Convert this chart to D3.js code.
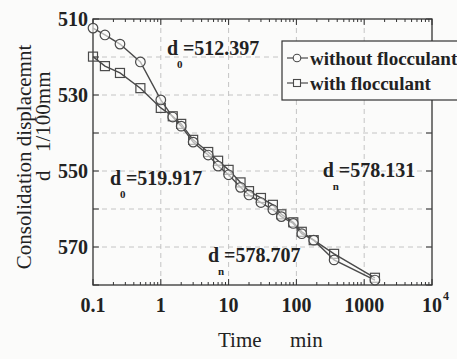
<!DOCTYPE html>
<html>
<head>
<meta charset="utf-8">
<script src="https://cdn.jsdelivr.net/npm/d3@7"></script>
<style>
body { margin: 0; background: #fbfbfa; }
text { font-family: "Liberation Serif", "Times New Roman", serif; fill: #222; }
</style>
</head>
<body>
<script>
// readings (min) and settlement (1/100 mm)
const times = [0.1, 0.15, 0.25, 0.5, 1, 1.5, 2, 3, 5, 7, 10, 15, 20, 30, 45, 60, 90, 120, 180, 360, 1440];
const withoutFloc = [512.4, 514.2, 516.6, 521.3, 531.3, 535.8, 538.2, 542.4, 545.8, 548.7, 551.0, 554.3, 556.3, 558.3, 560.2, 562.0, 563.8, 566.5, 568.2, 573.4, 578.7];
const withFloc = [519.9, 522.4, 524.2, 528.2, 533.4, 535.6, 537.6, 541.8, 545.0, 547.3, 549.7, 553.0, 555.3, 557.1, 558.9, 561.4, 563.5, 566.0, 568.2, 571.8, 578.1];
const xTicks = [0.1, 1, 10, 100, 1000, 10000];
const xTickLabels = ["0.1", "1", "10", "100", "1000", "10"];
const yTicks = [510, 520, 530, 540, 550, 560, 570, 580];
const yTickLabels = [510, 530, 550, 570];
const seriesNames = ["without flocculant", "with flocculant"];
const notes = [
    {sub: "0", val: "=512.397", t: 1.23, d: 519.5},
    {sub: "0", val: "=519.917", t: 0.178, d: 553.7},
    {sub: "n", val: "=578.707", t: 4.97, d: 573.9},
    {sub: "n", val: "=578.131", t: 245, d: 551.6}
];

const W = 457, H = 359;
const margin = {top: 19, right: 25, bottom: 74, left: 93};

const svg = d3.select("body").append("svg")
    .attr("width", W)
    .attr("height", H);

const x = d3.scaleLog()
    .domain([0.1, 10000])
    .range([margin.left, W - margin.right]);
const y = d3.scaleLinear()
    .domain([510, 580])
    .range([margin.top, H - margin.bottom]);

const x0 = x.range()[0], x1 = x.range()[1];
const y0 = y.range()[0], y1 = y.range()[1];

// grid
const grid = svg.append("g")
    .attr("stroke", "#c4c4c4")
    .attr("stroke-dasharray", "5,4")
    .attr("stroke-width", 1);
grid.selectAll(".gx").data(xTicks.slice(1, -1)).enter().append("line")
    .attr("x1", d => x(d)).attr("x2", d => x(d))
    .attr("y1", y0).attr("y2", y1);
grid.selectAll(".gy").data(yTicks.slice(1, -1)).enter().append("line")
    .attr("x1", x0).attr("x2", x1)
    .attr("y1", d => y(d)).attr("y2", d => y(d));

// ticks, inside on all four sides
const minor = [];
for (let e = -1; e < 4; e++) {
    for (let m = 2; m < 10; m++) minor.push(m * Math.pow(10, e));
}
const ticks = svg.append("g").attr("stroke", "#333").attr("stroke-width", 1);
[[y1, -1], [y0, 1]].forEach(([yy, dir]) => {
    ticks.selectAll(null).data(xTicks).enter().append("line")
        .attr("x1", d => x(d)).attr("x2", d => x(d))
        .attr("y1", yy).attr("y2", yy + dir * 6);
    ticks.selectAll(null).data(minor).enter().append("line")
        .attr("x1", d => x(d)).attr("x2", d => x(d))
        .attr("y1", yy).attr("y2", yy + dir * 3);
});
[[x0, 1], [x1, -1]].forEach(([xx, dir]) => {
    ticks.selectAll(null).data(yTicks).enter().append("line")
        .attr("x1", xx).attr("x2", xx + dir * 6)
        .attr("y1", d => y(d)).attr("y2", d => y(d));
});

// frame
svg.append("rect")
    .attr("x", x0).attr("y", y0)
    .attr("width", x1 - x0).attr("height", y1 - y0)
    .attr("fill", "none")
    .attr("stroke", "#333")
    .attr("stroke-width", 1.3);

// tick labels
svg.selectAll(".ylab").data(yTickLabels).enter().append("text")
    .attr("x", x0 - 5)
    .attr("y", d => y(d) + 7)
    .attr("text-anchor", "end")
    .attr("font-size", 20)
    .attr("font-weight", "bold")
    .text(d => d);
svg.selectAll(".xlab").data(xTicks).enter().append("text")
    .attr("x", d => x(d))
    .attr("y", 312)
    .attr("text-anchor", "middle")
    .attr("font-size", 20)
    .attr("font-weight", "bold")
    .text((d, i) => xTickLabels[i]);
svg.append("text")
    .attr("x", x(10000) + 11)
    .attr("y", 300)
    .attr("font-size", 12)
    .attr("font-weight", "bold")
    .text("4");

// axis titles
svg.append("text")
    .attr("x", 218).attr("y", 347)
    .attr("font-size", 21)
    .text("Time");
svg.append("text")
    .attr("x", 290).attr("y", 347)
    .attr("font-size", 21)
    .text("min");
svg.append("text")
    .attr("transform", "translate(31,157) rotate(-90)")
    .attr("text-anchor", "middle")
    .attr("font-size", 21)
    .text("Consolidation displacemnt");
svg.append("text")
    .attr("transform", "translate(50,181) rotate(-90)")
    .attr("font-size", 21)
    .text("d");
svg.append("text")
    .attr("transform", "translate(50,152) rotate(-90)")
    .attr("font-size", 21)
    .text("1/100mm");

// series
const line = d3.line()
    .x((d, i) => x(times[i]))
    .y(d => y(d));
const lineColor = "#4a4a4a";

svg.append("path")
    .datum(withFloc)
    .attr("d", line)
    .attr("fill", "none")
    .attr("stroke", lineColor)
    .attr("stroke-width", 1.4);
svg.append("path")
    .datum(withoutFloc)
    .attr("d", line)
    .attr("fill", "none")
    .attr("stroke", lineColor)
    .attr("stroke-width", 1.4);

svg.selectAll(".sq").data(withFloc).enter().append("rect")
    .attr("x", (d, i) => x(times[i]) - 4.5)
    .attr("y", d => y(d) - 4.5)
    .attr("width", 9).attr("height", 9)
    .attr("fill", "none")
    .attr("stroke", lineColor)
    .attr("stroke-width", 1.2);
svg.selectAll(".ci").data(withoutFloc).enter().append("circle")
    .attr("cx", (d, i) => x(times[i]))
    .attr("cy", d => y(d))
    .attr("r", 4.8)
    .attr("fill", "#fbfbfa")
    .attr("fill-opacity", 0.6)
    .attr("stroke", lineColor)
    .attr("stroke-width", 1.2);

// annotations
notes.forEach(n => {
    const g = svg.append("g")
        .attr("transform", "translate(" + x(n.t) + "," + y(n.d) + ")")
        .attr("font-weight", "bold");
    g.append("text").attr("font-size", 20).text("d");
    g.append("text").attr("x", 10).attr("y", 13).attr("font-size", 11).text(n.sub);
    g.append("text").attr("x", 16).attr("font-size", 20).text(n.val);
});

// legend
const lg = svg.append("g").attr("transform", "translate(282,41)");
lg.append("rect")
    .attr("width", 200).attr("height", 59)
    .attr("fill", "#fbfbfa")
    .attr("stroke", "#333")
    .attr("stroke-width", 1.2);
seriesNames.forEach((name, i) => {
    const yy = 17 + i * 25;
    lg.append("line")
        .attr("x1", 5).attr("x2", 26)
        .attr("y1", yy).attr("y2", yy)
        .attr("stroke", lineColor).attr("stroke-width", 1.2);
    if (i === 0) {
        lg.append("circle").attr("cx", 15).attr("cy", yy).attr("r", 3.8)
            .attr("fill", "#fbfbfa").attr("stroke", lineColor).attr("stroke-width", 1.1);
    } else {
        lg.append("rect").attr("x", 11.5).attr("y", yy - 3.5).attr("width", 7).attr("height", 7)
            .attr("fill", "#fbfbfa").attr("stroke", lineColor).attr("stroke-width", 1.1);
    }
    lg.append("text")
        .attr("x", 28).attr("y", yy + 7)
        .attr("font-size", 19)
        .attr("font-weight", "bold")
        .text(name);
});
</script>
</body>
</html>
